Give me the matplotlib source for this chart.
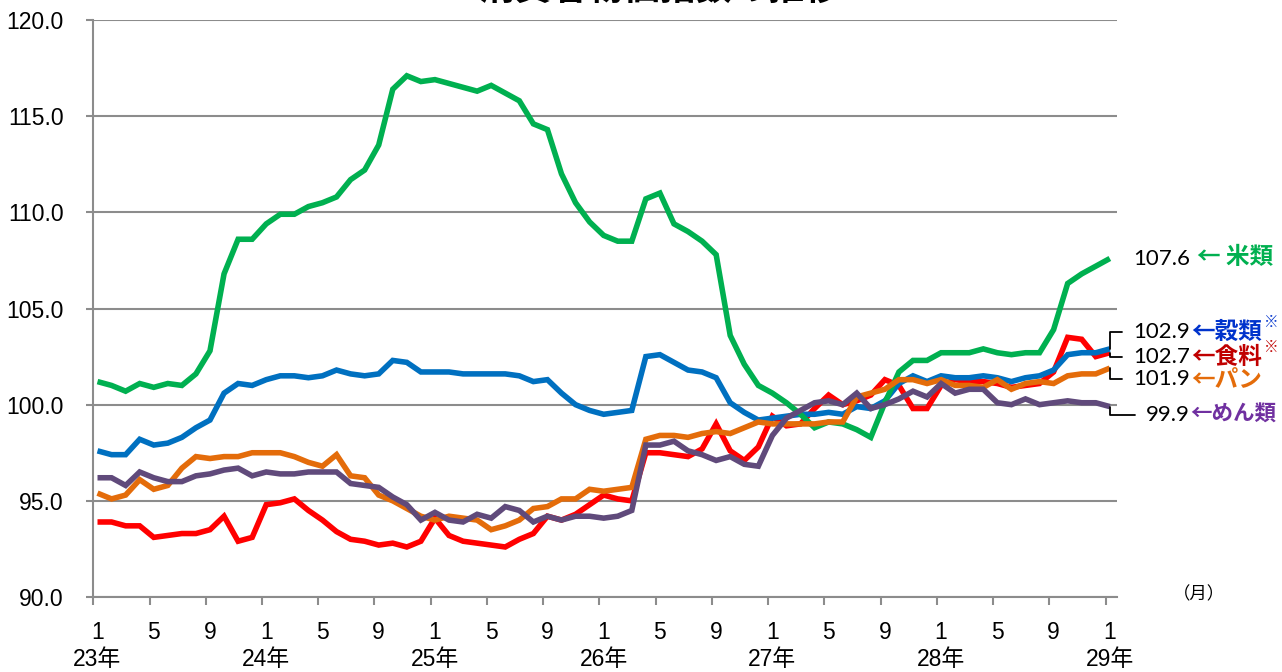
import matplotlib
matplotlib.use("Agg")
import matplotlib.pyplot as plt
import matplotlib.transforms as mtransforms

# ---------------- data ----------------
title = "消費者物価指数の推移"
month_labels = ["1", "5", "9"] * 6 + ["1"]          # every 4 months, 23年1月 .. 29年1月
year_labels = ["23年", "24年", "25年", "26年", "27年", "28年", "29年"]

rice = [101.2, 101.0, 100.7, 101.1, 100.9, 101.1, 101.0, 101.6, 102.8, 106.8,
        108.6, 108.6, 109.4, 109.9, 109.9, 110.3, 110.5, 110.8, 111.7, 112.2,
        113.5, 116.4, 117.1, 116.8, 116.9, 116.7, 116.5, 116.3, 116.6, 116.2,
        115.8, 114.6, 114.3, 112.0, 110.5, 109.5, 108.8, 108.5, 108.5, 110.7,
        111.0, 109.4, 109.0, 108.5, 107.8, 103.6, 102.1, 101.0, 100.6, 100.1,
        99.5, 98.8, 99.1, 99.0, 98.7, 98.3, 100.1, 101.7, 102.3, 102.3,
        102.7, 102.7, 102.7, 102.9, 102.7, 102.6, 102.7, 102.7, 103.9, 106.3,
        106.8, 107.2, 107.6]

grain = [97.6, 97.4, 97.4, 98.2, 97.9, 98.0, 98.3, 98.8, 99.2, 100.6,
         101.1, 101.0, 101.3, 101.5, 101.5, 101.4, 101.5, 101.8, 101.6, 101.5,
         101.6, 102.3, 102.2, 101.7, 101.7, 101.7, 101.6, 101.6, 101.6, 101.6,
         101.5, 101.2, 101.3, 100.6, 100.0, 99.7, 99.5, 99.6, 99.7, 102.5,
         102.6, 102.2, 101.8, 101.7, 101.4, 100.1, 99.6, 99.2, 99.3, 99.4,
         99.5, 99.5, 99.6, 99.5, 99.9, 99.8, 100.2, 101.1, 101.5, 101.2,
         101.5, 101.4, 101.4, 101.5, 101.4, 101.2, 101.4, 101.5, 101.8, 102.6,
         102.7, 102.7, 102.9]

food = [93.9, 93.9, 93.7, 93.7, 93.1, 93.2, 93.3, 93.3, 93.5, 94.2,
        92.9, 93.1, 94.8, 94.9, 95.1, 94.5, 94.0, 93.4, 93.0, 92.9,
        92.7, 92.8, 92.6, 92.9, 94.1, 93.2, 92.9, 92.8, 92.7, 92.6,
        93.0, 93.3, 94.2, 94.0, 94.3, 94.8, 95.3, 95.1, 95.0, 97.5,
        97.5, 97.4, 97.3, 97.7, 99.0, 97.6, 97.1, 97.8, 99.4, 98.9,
        99.0, 99.8, 100.5, 100.0, 100.2, 100.5, 101.3, 101.0, 99.8, 99.8,
        101.0, 101.3, 101.2, 101.2, 101.1, 100.9, 101.0, 101.1, 101.7, 103.5,
        103.4, 102.5, 102.7]

bread = [95.4, 95.1, 95.3, 96.1, 95.6, 95.8, 96.7, 97.3, 97.2, 97.3,
         97.3, 97.5, 97.5, 97.5, 97.3, 97.0, 96.8, 97.4, 96.3, 96.2,
         95.3, 95.0, 94.6, 94.2, 94.0, 94.2, 94.1, 94.0, 93.5, 93.7,
         94.0, 94.6, 94.7, 95.1, 95.1, 95.6, 95.5, 95.6, 95.7, 98.2,
         98.4, 98.4, 98.3, 98.5, 98.6, 98.5, 98.8, 99.1, 99.0, 99.0,
         99.0, 99.0, 99.1, 99.1, 100.4, 100.6, 100.8, 101.3, 101.3, 101.1,
         101.3, 101.0, 101.0, 100.9, 101.3, 100.8, 101.1, 101.2, 101.1, 101.5,
         101.6, 101.6, 101.9]

noodle = [96.2, 96.2, 95.8, 96.5, 96.2, 96.0, 96.0, 96.3, 96.4, 96.6,
          96.7, 96.3, 96.5, 96.4, 96.4, 96.5, 96.5, 96.5, 95.9, 95.8,
          95.7, 95.2, 94.8, 94.0, 94.4, 94.0, 93.9, 94.3, 94.1, 94.7,
          94.5, 93.9, 94.2, 94.0, 94.2, 94.2, 94.1, 94.2, 94.5, 97.9,
          97.9, 98.1, 97.6, 97.4, 97.1, 97.3, 96.9, 96.8, 98.4, 99.3,
          99.7, 100.1, 100.2, 100.0, 100.6, 99.8, 100.0, 100.3, 100.7, 100.4,
          101.1, 100.6, 100.8, 100.8, 100.1, 100.0, 100.3, 100.0, 100.1, 100.2,
          100.1, 100.1, 99.9]

series_names = ["食料", "穀類", "米類", "パン", "めん類"]

# ---------------- style ----------------
plt.rcParams["font.family"] = ["Liberation Sans", "Noto Sans CJK JP"]
CJK = ["Noto Sans CJK JP", "DejaVu Sans"]
GRID = "#8c8c8c"

W, H = 1282, 672
fig = plt.figure(figsize=(W / 100, H / 100), dpi=100)
ax = fig.add_axes([93 / W, 1 - 597 / H, 1024 / W, 577 / H])

x = list(range(len(rice)))
line_specs = [
    (food, "#FF0000"),
    (grain, "#0070C0"),
    (rice, "#00B050"),
    (bread, "#E46C0A"),
    (noodle, "#604A7B"),
]
for vals, col in line_specs:
    ax.plot(x, vals, color=col, lw=4.0, solid_joinstyle="miter", solid_capstyle="butt", zorder=3)

ax.set_xlim(-0.32, 72.51)
ax.set_ylim(90, 120)

# y axis
yt = list(range(90, 121, 5))
ax.set_yticks(yt)
ax.set_yticklabels([f"{v:.1f}" for v in yt])
ax.yaxis.grid(True, color=GRID, lw=1.5)
ax.set_axisbelow(True)
ax.tick_params(axis="y", length=5, width=1.5, color=GRID, pad=16, labelsize=16.5)

# x axis
major = list(range(0, 73, 4))
ax.set_xticks(major)
ax.set_xticklabels(month_labels)
ax.set_xticks([m - 0.3 for m in major], minor=True)
ax.tick_params(axis="x", which="major", length=0, pad=17, labelsize=16.5)
ax.tick_params(axis="x", which="minor", length=6, width=1.5, color=GRID)

for s in ["top", "right"]:
    ax.spines[s].set_visible(False)
for s in ["left", "bottom"]:
    ax.spines[s].set_color(GRID)
    ax.spines[s].set_linewidth(1.5)

trans = mtransforms.blended_transform_factory(ax.transData, ax.transAxes)
for k, lbl in enumerate(year_labels):
    ax.text(k * 12, -0.108, lbl, transform=trans, ha="center", va="center",
            fontsize=16.5, family=["Liberation Sans", "Noto Sans CJK JP"])

fig.text(1199 / W, 1 - 594 / H, "（月）", ha="center", va="center", fontsize=12.5, family=CJK)

# title (partly above the canvas, as in the reference)
fig.text(660 / W, 1 + 11 / H, title, ha="center", va="center", fontsize=26,
         fontweight="bold", family=CJK)

# ---------------- end labels ----------------
last = len(rice) - 1
end_labels = [
    # values, number dy, leader?, name text, name color, name dx, name dy, star dy, name size
    (rice, -1, False, "← 米類", "#00B050", 87, 1, None, 17),
    (grain, 17, True, "←穀類", "#0033CC", 81, 17, 27, 17),
    (food, -4, True, "←食料", "#C00000", 81, -4, 6, 17),
    (bread, -11, True, "←パン", "#E46C0A", 81, -11, None, 17),
    (noodle, -8, True, "←めん類", "#7030A0", 80, -8, None, 15.5),
]
for vals, ndy, leader, name, ncol, ndx, namedy, stardy, nsize in end_labels:
    v = vals[last]
    kw = {}
    if leader:
        kw["arrowprops"] = dict(arrowstyle="-", color="black", lw=1.3,
                                connectionstyle="angle,angleA=0,angleB=90",
                                relpos=(0, 0.5), shrinkA=6, shrinkB=0)
    ax.annotate(f"{v:.1f}", xy=(last, v), xytext=(80, ndy), textcoords="offset pixels",
                ha="right", va="center", fontsize=16, family=["Lato", "Liberation Sans"],
                color="black", annotation_clip=False, **kw)
    ax.annotate(name, xy=(last, v), xytext=(ndx, namedy), textcoords="offset pixels",
                ha="left", va="center", fontsize=nsize, fontweight="bold", family=CJK,
                color=ncol, annotation_clip=False)
    if stardy is not None:
        ax.annotate("※", xy=(last, v), xytext=(154, stardy), textcoords="offset pixels",
                    ha="left", va="center", fontsize=10.5, fontweight="bold", family=CJK,
                    color=ncol, annotation_clip=False)

fig.savefig("out.png", dpi=100)
